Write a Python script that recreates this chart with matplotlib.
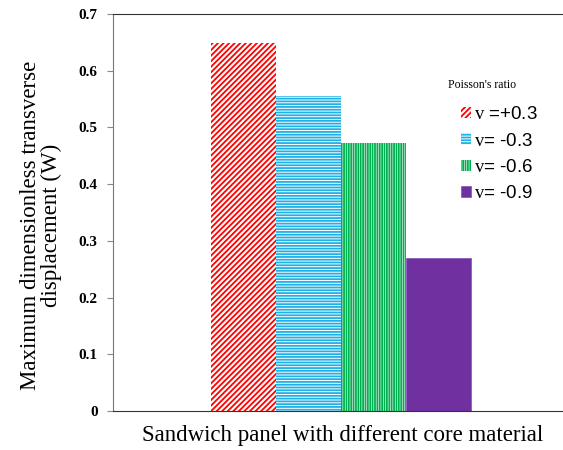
import matplotlib
matplotlib.use("Agg")
import matplotlib.pyplot as plt
from matplotlib.patches import Patch

labels = ["v =+0.3", "v= -0.3", "v= -0.6", "v= -0.9"]
values = [0.648, 0.555, 0.473, 0.270]
colors = ["#ff0000", "#1fb0e6", "#00b050", "#7030a0"]
hatches = ["//////", "------", "|||||||", None]
yticks = [0, 0.1, 0.2, 0.3, 0.4, 0.5, 0.6, 0.7]
ytick_labels = ["0", "0.1", "0.2", "0.3", "0.4", "0.5", "0.6", "0.7"]

plt.rcParams["hatch.linewidth"] = 1.3
plt.rcParams["font.family"] = ["Liberation Serif", "DejaVu Serif"]
plt.rcParams["mathtext.fontset"] = "custom"
plt.rcParams["mathtext.rm"] = "Liberation Serif"

fig = plt.figure(figsize=(5.63, 4.5), dpi=100)
ax = fig.add_axes([113 / 563, 39 / 450, 450 / 563, 397 / 450])

xs = list(range(len(values)))
for x, v, c, h in zip(xs, values, colors, hatches):
    if h:
        ax.bar(x, v, width=1.0, facecolor="white", edgecolor=c, hatch=h, linewidth=0)
    else:
        ax.bar(x, v, width=1.0, facecolor=c, edgecolor="#8a5cc0", linewidth=0.6)

ax.set_xlim(-2.008, 4.92)
ax.set_ylim(0, 0.7)
ax.set_yticks(yticks)
ax.set_yticklabels(ytick_labels, fontsize=11, fontweight="bold")
ax.set_xticks([])
ax.tick_params(axis="y", direction="out", length=4, color="#888888", pad=7)
ax.spines["right"].set_visible(False)
ax.spines["left"].set_color("#777777")
ax.spines["top"].set_color("#333333")
ax.spines["bottom"].set_color("#333333")

ax.set_ylabel("Maximum dimensionless transverse\ndisplacement (W)", fontsize=16.5,
              linespacing=1.0, multialignment="center")
ax.yaxis.set_label_coords(-0.113, 0.468)
ax.set_xlabel("Sandwich panel with different core material", fontsize=16.5)
ax.xaxis.set_label_coords(0.51, -0.035)
ax.xaxis.label.set_va("top")

handles = []
for c, h in zip(colors, hatches):
    if h:
        handles.append(Patch(facecolor="white", edgecolor=c, hatch=h, linewidth=0))
    else:
        handles.append(Patch(facecolor=c, edgecolor="#8a5cc0", linewidth=0.6))

leg_labels = [r"$\mathrm{v}$" + l[1:] for l in labels]
leg = ax.legend(handles, leg_labels, loc="upper left",
                bbox_to_anchor=(0.735, 0.81), frameon=False,
                prop={"family": ["Liberation Sans"], "size": 13.5},
                handlelength=0.55, handleheight=0.55, handletextpad=0.15,
                labelspacing=0.5)
fig.text(448 / 563, 1 - 85 / 450, "Poisson's ratio", fontsize=8.5, va="center", ha="left")

fig.savefig("out.png", dpi=100)
